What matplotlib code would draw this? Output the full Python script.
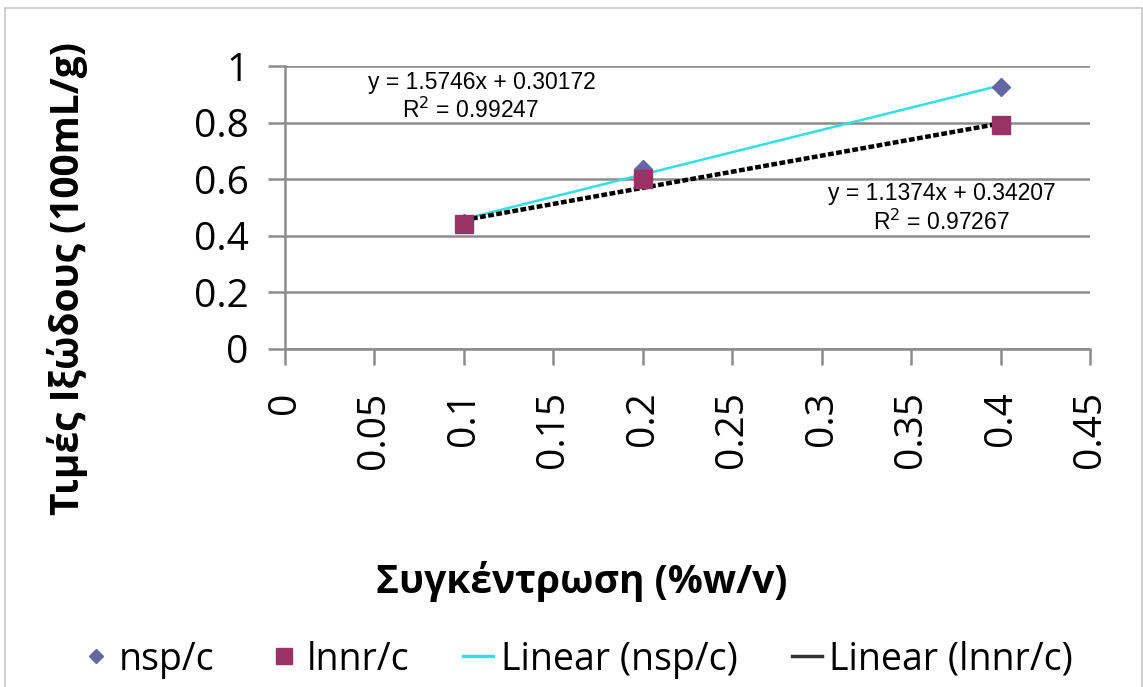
import matplotlib
matplotlib.use("Agg")
import matplotlib.pyplot as plt
from matplotlib.lines import Line2D
from matplotlib.patches import Rectangle
import numpy as np

# Measured data
conc = [0.1, 0.2, 0.4]
nsp_c = [0.445, 0.635, 0.925]
lnnr_c = [0.44, 0.60, 0.79]

# Linear trendlines (slope, intercept, R^2)
nsp_fit = (1.5746, 0.30172, 0.99247)
lnnr_fit = (1.1374, 0.34207, 0.97267)

x_ticks = [0, 0.05, 0.1, 0.15, 0.2, 0.25, 0.3, 0.35, 0.4, 0.45]
y_ticks = [0, 0.2, 0.4, 0.6, 0.8, 1]

x_label = "Συγκέντρωση (%w/v)"
y_label = "Τιμές Ιξώδους (100mL/g)"
legend_labels = ["nsp/c", "lnnr/c", "Linear (nsp/c)", "Linear (lnnr/c)"]

plt.rcParams['font.family'] = ['Open Sans', 'DejaVu Sans']

fig = plt.figure(figsize=(11.43, 6.87), dpi=100)
ax = fig.add_axes([0.2493, 0.492, 0.9536 - 0.2493, 0.9039 - 0.492])

grid_col = "#8c8c8c"
diamond_col = "#6666a3"
square_col = "#993366"
cyan_col = "#33e0e0"

# Trendlines over the data range
xs = np.linspace(min(conc), max(conc), 50)
ax.plot(xs, nsp_fit[0] * xs + nsp_fit[1], color=cyan_col, lw=1.8, zorder=3)
ax.plot(xs, lnnr_fit[0] * xs + lnnr_fit[1], color="black", lw=3.2,
        linestyle=(0, (1.3, 0.55)), zorder=3)

# Data points
ax.plot(conc, nsp_c, linestyle="none", marker="D", markersize=9,
        color=diamond_col, zorder=4)
ax.plot(conc, lnnr_c, linestyle="none", marker="s", markersize=13,
        color=square_col, zorder=5)

ax.set_xlim(0, 0.45)
ax.set_ylim(0, 1)
ax.set_xticks(x_ticks)
ax.set_xticklabels([f"{v:g}" for v in x_ticks], rotation=90, fontsize=28)
ax.set_yticks(y_ticks)
ax.set_yticklabels([f"{v:g}" for v in y_ticks], fontsize=28)

ax.yaxis.grid(True, color=grid_col, lw=1.8)
ax.set_axisbelow(True)
for s in ("top", "right"):
    ax.spines[s].set_visible(False)
for s in ("left", "bottom"):
    ax.spines[s].set_color(grid_col)
    ax.spines[s].set_linewidth(1.8)
ax.tick_params(axis="x", direction="out", length=11.5, width=1.8, color=grid_col, pad=19)
ax.tick_params(axis="y", direction="out", length=12, width=1.8, color=grid_col, pad=14)

ax.set_xlabel(x_label, fontsize=28, fontweight="bold")
ax.set_ylabel(y_label, fontsize=28, fontweight="bold")
ax.xaxis.set_label_coords(0.368, -0.75)
ax.yaxis.set_label_coords(-0.245, 0.25)

# Trendline equations
eq_font = dict(family=["Liberation Sans", "DejaVu Sans"],
               fontsize=16.5, ha="center", va="center")
ax.text(0.110, 0.943, f"y = {nsp_fit[0]}x + {nsp_fit[1]}", **eq_font)
ax.text(0.104, 0.845, f"R$^2$ = {nsp_fit[2]}", **eq_font)
ax.text(0.367, 0.551, f"y = {lnnr_fit[0]}x + {lnnr_fit[1]}", **eq_font)
ax.text(0.367, 0.449, f"R$^2$ = {lnnr_fit[2]}", **eq_font)

# Legend along the bottom
handles = [
    Line2D([], [], linestyle="none", marker="D", markersize=7.5, color=diamond_col),
    Line2D([], [], linestyle="none", marker="s", markersize=11, color=square_col),
    Line2D([], [], color=cyan_col, lw=2.5),
    Line2D([], [], color="#333333", lw=2.5),
]
fig.legend(handles, legend_labels, loc="center", bbox_to_anchor=(0.505, 0.04),
           ncol=4, frameon=False, fontsize=27, handlelength=0.8,
           handletextpad=0.2, columnspacing=1.45)

# Chart area border
fig.patches.append(Rectangle((0.004, -0.01), 0.995, 0.998, transform=fig.transFigure,
                             fill=False, edgecolor="#c8c8c8", lw=1.2))

fig.savefig("out.png", dpi=100)
